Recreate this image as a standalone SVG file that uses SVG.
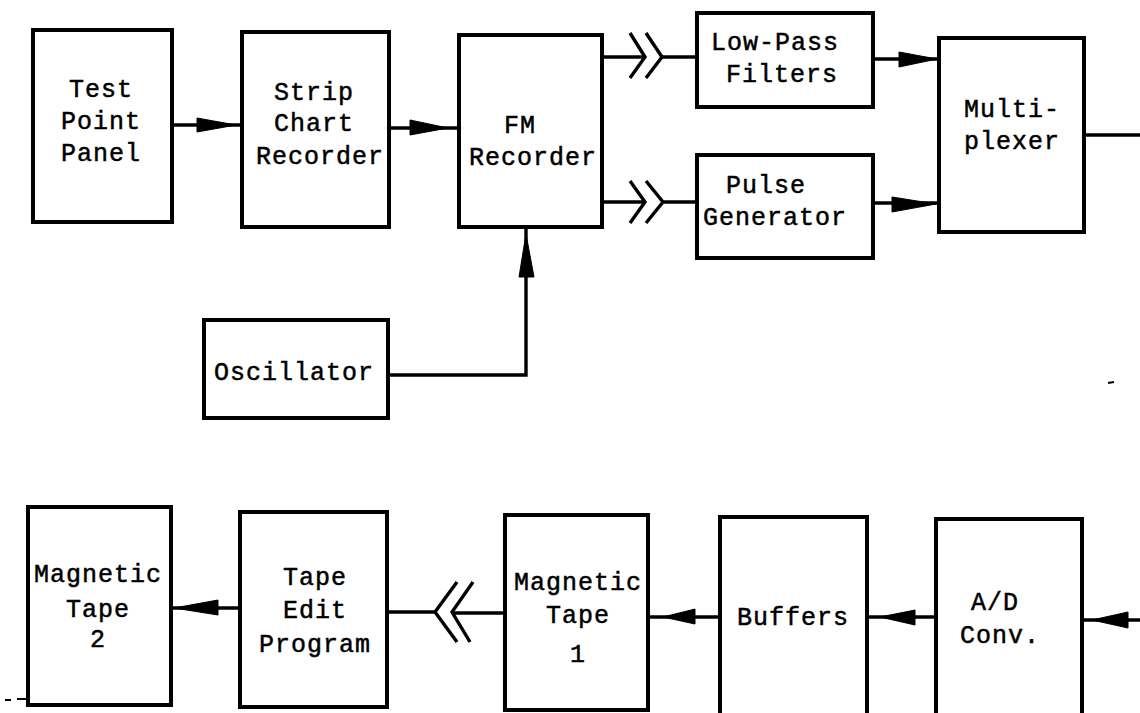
<svg xmlns="http://www.w3.org/2000/svg" width="1140" height="713" viewBox="0 0 1140 713">
<style>
.box{fill:#fff;stroke:#000;stroke-width:4}
.ln{fill:none;stroke:#000;stroke-width:3.4;stroke-linejoin:miter}
.ah{fill:#000;stroke:#000;stroke-width:1}
text{font-family:"Liberation Mono","DejaVu Sans Mono",monospace;font-size:25px;letter-spacing:1px;fill:#000;stroke:#000;stroke-width:0.5;text-anchor:middle}
</style>
<rect width="1140" height="713" fill="#fff"/>
<g id="connectors">
<line class="ln" x1="172" y1="125" x2="242" y2="125"/>
<polygon class="ah" points="197,118 197,132 236,125"/>
<line class="ln" x1="389" y1="128" x2="459" y2="128"/>
<polygon class="ah" points="410,120 410,135 448,128"/>
<line class="ln" x1="602" y1="57" x2="645" y2="57"/>
<polyline class="ln" points="630,33 645,57 630,78"/>
<polyline class="ln" points="646,33 662,57 646,78"/>
<line class="ln" x1="662" y1="57" x2="697" y2="57"/>
<line class="ln" x1="602" y1="202" x2="645" y2="202"/>
<polyline class="ln" points="630,181 645,202 630,223"/>
<polyline class="ln" points="646,181 663,202 646,223"/>
<line class="ln" x1="663" y1="202" x2="697" y2="202"/>
<line class="ln" x1="873" y1="59" x2="939" y2="59"/>
<polygon class="ah" points="899,52 899,67 937,59"/>
<line class="ln" x1="873" y1="203" x2="939" y2="203"/>
<polygon class="ah" points="892,197 892,212 936,204"/>
<line class="ln" x1="1084" y1="135" x2="1140" y2="135"/>
<polyline class="ln" points="388,375 526,375 526,227"/>
<polygon class="ah" points="519,277 534,277 526,234"/>
<line class="ln" x1="171" y1="608" x2="240" y2="608"/>
<polygon class="ah" points="218,600 218,615 174,608"/>
<line class="ln" x1="387" y1="612" x2="437" y2="612"/>
<polyline class="ln" points="457,582 435,612 457,642"/>
<polyline class="ln" points="473,582 452,612 470,642"/>
<line class="ln" x1="452" y1="613" x2="505" y2="613"/>
<line class="ln" x1="648" y1="617" x2="720" y2="617"/>
<polygon class="ah" points="695,609 695,624 663,617"/>
<line class="ln" x1="867" y1="617" x2="936" y2="617"/>
<polygon class="ah" points="915,610 915,625 880,617"/>
<line class="ln" x1="1082" y1="620" x2="1140" y2="620"/>
<polygon class="ah" points="1128,612 1128,628 1092,620"/>
<line x1="5" y1="700" x2="11" y2="700" stroke="#000" stroke-width="2"/>
<line x1="17" y1="699" x2="27" y2="699" stroke="#000" stroke-width="2"/>
<line x1="1108" y1="383" x2="1114" y2="382" stroke="#000" stroke-width="2"/>
</g>
<g id="test-point-panel">
<rect class="box" x="33" y="30" width="139" height="192"/>
<text x="101" y="97">Test</text>
<text x="101" y="129">Point</text>
<text x="101" y="161">Panel</text>
</g>
<g id="strip-chart-recorder">
<rect class="box" x="242" y="32" width="147" height="195"/>
<text x="314" y="100">Strip</text>
<text x="314" y="131">Chart</text>
<text x="320" y="164">Recorder</text>
</g>
<g id="fm-recorder">
<rect class="box" x="459" y="35" width="143" height="192"/>
<text x="520" y="133">FM</text>
<text x="533" y="165">Recorder</text>
</g>
<g id="low-pass-filters">
<rect class="box" x="697" y="13" width="176" height="94"/>
<text x="775" y="50">Low-Pass</text>
<text x="782" y="82">Filters</text>
</g>
<g id="pulse-generator">
<rect class="box" x="697" y="155" width="176" height="103"/>
<text x="766" y="193">Pulse</text>
<text x="775" y="225">Generator</text>
</g>
<g id="multiplexer">
<rect class="box" x="939" y="38" width="145" height="194"/>
<text x="1012" y="117">Multi-</text>
<text x="1012" y="149">plexer</text>
</g>
<g id="oscillator">
<rect class="box" x="204" y="320" width="184" height="98"/>
<text x="294" y="380">Oscillator</text>
</g>
<g id="magnetic-tape-2">
<rect class="box" x="28" y="507" width="143" height="198"/>
<text x="98" y="582">Magnetic</text>
<text x="98" y="617">Tape</text>
<text x="98" y="647">2</text>
</g>
<g id="tape-edit-program">
<rect class="box" x="240" y="512" width="147" height="195"/>
<text x="315" y="585">Tape</text>
<text x="315" y="618">Edit</text>
<text x="315" y="652">Program</text>
</g>
<g id="magnetic-tape-1">
<rect class="box" x="505" y="515" width="143" height="195"/>
<text x="578" y="590">Magnetic</text>
<text x="578" y="623">Tape</text>
<text x="578" y="662">1</text>
</g>
<g id="buffers">
<rect class="box" x="720" y="517" width="147" height="210"/>
<text x="793" y="625">Buffers</text>
</g>
<g id="ad-conv">
<rect class="box" x="936" y="519" width="146" height="210"/>
<text x="995" y="610">A/D</text>
<text x="1000" y="643">Conv.</text>
</g>
</svg>
